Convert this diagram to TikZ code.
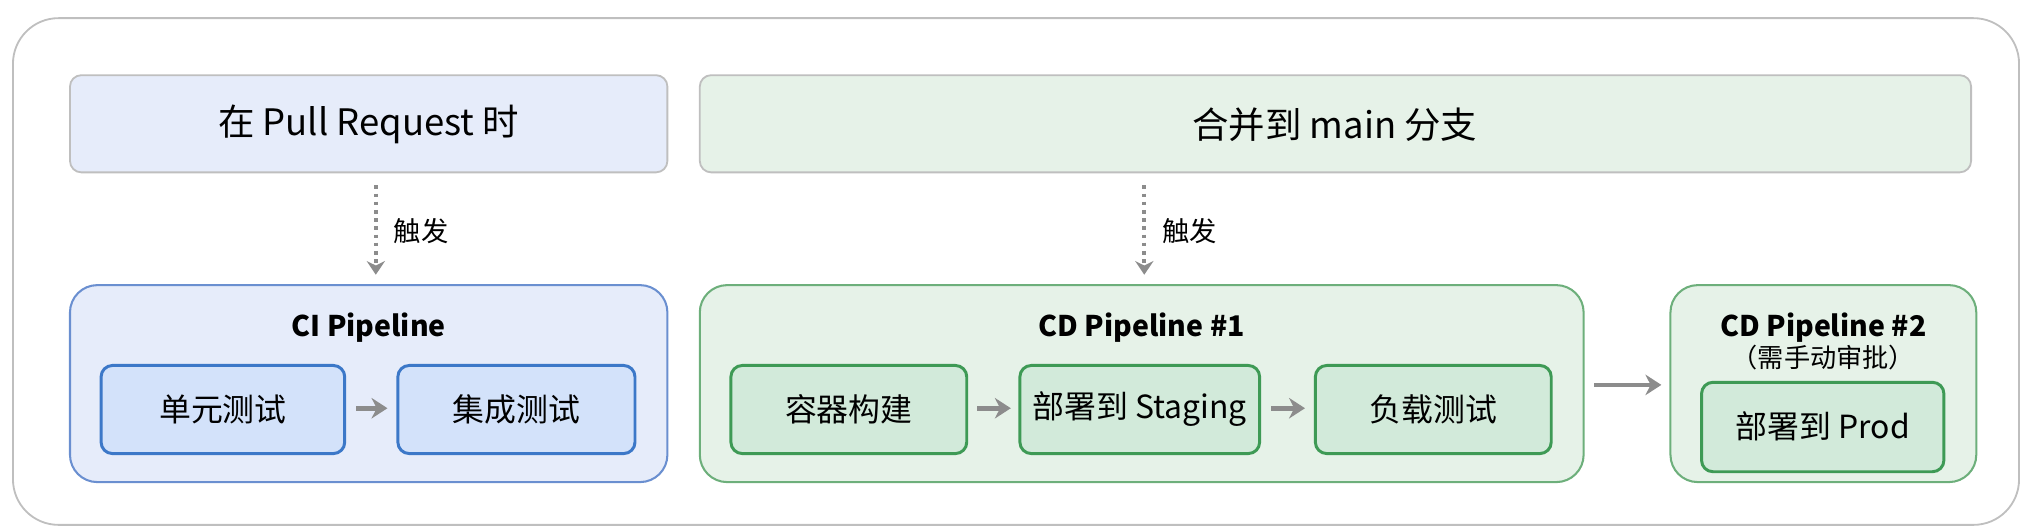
\documentclass[tikz,border=0pt]{standalone}
\usepackage{fontspec}
\setmainfont{Noto Sans CJK SC}
\usetikzlibrary{arrows.meta}
\definecolor{bluefill}{HTML}{E6ECFA}
\definecolor{blueinner}{HTML}{D3E2FA}
\definecolor{blueedge}{HTML}{3C78C8}
\definecolor{blueouter}{HTML}{6A8FD0}
\definecolor{greenfill}{HTML}{E6F2E8}
\definecolor{greeninner}{HTML}{D2EADA}
\definecolor{greenedge}{HTML}{3E9A55}
\definecolor{greenouter}{HTML}{6DAF7B}
\definecolor{arr}{HTML}{8C8C8C}
\tikzset{
 px/.style={x=0.02cm,y=-0.02cm},
 topbox/.style={draw=black!25,line width=0.8pt,rounded corners=5pt},
 outerbox/.style={line width=0.9pt,rounded corners=12pt},
 inner/.style={line width=1.3pt,rounded corners=5pt},
 flow/.style={draw=arr,line width=2pt,-{Stealth[length=7pt,width=9pt]}},
 trig/.style={draw=arr,line width=1.6pt,dotted,-{Stealth[length=6pt,width=8pt]}},
 lbl/.style={font=\fontsize{12}{14}\selectfont},
 ttl/.style={font=\bfseries\fontsize{12.5}{15}\selectfont},
 itxt/.style={font=\fontsize{14}{17}\selectfont}
}
\begin{document}
\begin{tikzpicture}[px]
\useasboundingbox (0,0) rectangle (1568,407);
\draw[black!25,line width=0.8pt,rounded corners=20pt] (10,14) rectangle (1558,405);
% top boxes
\draw[topbox,fill=bluefill] (54,58) rectangle (515,133);
\node[font=\fontsize{16}{19}\selectfont] (pr) at (284.5,96) {在 Pull Request 时};
\draw[topbox,fill=greenfill] (540,58) rectangle (1521,133);
\node[font=\fontsize{16}{19}\selectfont] (mg) at (1030,96) {合并到 main 分支};
% triggers
\coordinate (t1a) at (290,143); \coordinate (t1b) at (290,212);
\draw[trig] (t1a) -- (t1b);
\node[lbl] (tl1) at (325,178) {触发};
\coordinate (t2a) at (883,143); \coordinate (t2b) at (883,212);
\draw[trig] (t2a) -- (t2b);
\node[lbl] (tl2) at (918,178) {触发};
% CI pipeline
\draw[outerbox,draw=blueouter,fill=bluefill] (54,220) rectangle (515,372);
\node[ttl] (ci) at (284.5,253) {CI Pipeline};
\draw[inner,draw=blueedge,fill=blueinner] (78,282) rectangle (266,350);
\draw[inner,draw=blueedge,fill=blueinner] (307,282) rectangle (490,350);
\node[itxt] (ut) at (172,316) {单元测试};
\node[itxt] (it) at (398.5,316) {集成测试};
\coordinate (a1) at (275,315); \coordinate (a2) at (299,315);
\draw[flow] (a1) -- (a2);
% CD pipeline 1
\draw[outerbox,draw=greenouter,fill=greenfill] (540,220) rectangle (1222,372);
\node[ttl] (cd1) at (881,253) {CD Pipeline \#1};
\draw[inner,draw=greenedge,fill=greeninner] (564,282) rectangle (746,350);
\draw[inner,draw=greenedge,fill=greeninner] (787,282) rectangle (972,350);
\draw[inner,draw=greenedge,fill=greeninner] (1015,282) rectangle (1197,350);
\node[itxt] (rq) at (655,316) {容器构建};
\node[itxt] (st) at (879.5,316) {部署到 Staging};
\node[itxt] (lt) at (1106,316) {负载测试};
\coordinate (b1) at (754,315); \coordinate (b2) at (780,315);
\draw[flow] (b1) -- (b2);
\coordinate (c1) at (981,315); \coordinate (c2) at (1007,315);
\draw[flow] (c1) -- (c2);
\coordinate (d1) at (1230,297); \coordinate (d2) at (1282,297);
\draw[flow] (d1) -- (d2);
% CD pipeline 2
\draw[outerbox,draw=greenouter,fill=greenfill] (1289,220) rectangle (1525,372);
\node[ttl] (cd2) at (1407,253) {CD Pipeline \#2};
\node[font=\fontsize{11.5}{14}\selectfont] (ap) at (1407,276) {（需手动审批）};
\draw[inner,draw=greenedge,fill=greeninner] (1313,295) rectangle (1500,364);
\node[itxt] (pd) at (1406.5,329) {部署到 Prod};
\end{tikzpicture}
\end{document}
